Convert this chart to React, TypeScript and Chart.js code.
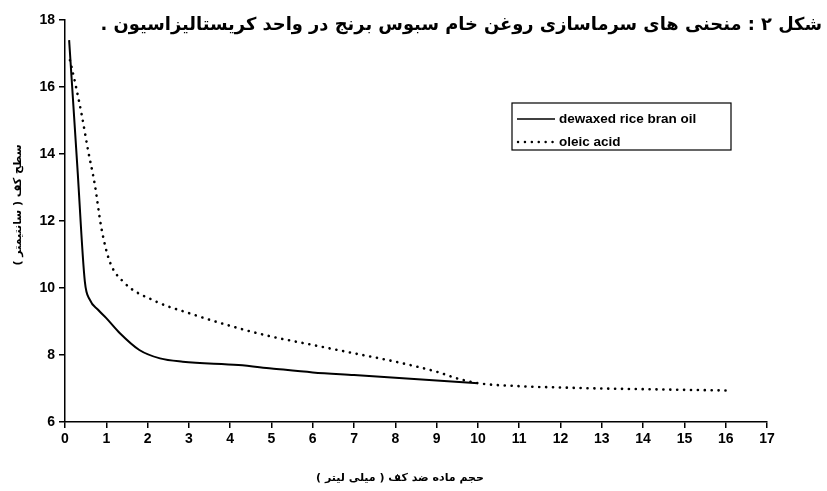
import React, { useEffect, useRef } from 'react';
import { Chart, registerables } from 'chart.js';

Chart.register(...registerables);

const TITLE = 'شکل ۲ : منحنی های سرماسازی روغن خام سبوس برنج در واحد کریستالیزاسیون .';
const Y_TITLE = 'سطح کف ( سانتیمتر )';
const X_TITLE = 'حجم ماده ضد کف ( میلی لیتر )';
const SERIES_NAMES = ['dewaxed rice bran oil', 'oleic acid'];

const dewaxedX = [0.1, 0.3, 0.48, 0.6, 0.8, 1.0, 1.33, 1.8, 2.3, 2.85, 4.2, 5, 6, 7, 8, 9, 10];
const dewaxedY = [17.4, 13.6, 10.2, 9.65, 9.35, 9.1, 8.65, 8.15, 7.9, 7.8, 7.7, 7.6, 7.48, 7.4, 7.32, 7.24, 7.16];

const oleicX = [0.12, 0.25, 0.4, 0.56, 0.72, 0.88, 1.08, 1.4, 2.2, 3.0, 4.2, 5, 6, 7, 8, 9, 9.5, 10, 11, 12, 13, 14, 15, 16.1];
const oleicY = [16.8, 16.1, 15.2, 14.1, 13.1, 11.8, 10.8, 10.2, 9.6, 9.25, 8.8, 8.55, 8.3, 8.05, 7.8, 7.5, 7.3, 7.16, 7.07, 7.03, 7.0, 6.98, 6.96, 6.94];

const X_MIN = 0;
const X_MAX = 17;
const X_STEP = 1;
const Y_MIN = 6;
const Y_MAX = 18;
const Y_STEP = 2;

const DOT_DASH = [0.1, 6.8];

const toPoints = (xs: number[], ys: number[]) => xs.map((x, i) => ({ x, y: ys[i] }));

const overlayPlugin = {
  id: 'overlayTexts',
  afterDraw(chart: any) {
    const ctx = chart.ctx as CanvasRenderingContext2D;
    ctx.save();
    ctx.fillStyle = '#000';
    ctx.strokeStyle = '#000';

    // Title (RTL, right aligned)
    ctx.direction = 'rtl';
    ctx.textAlign = 'right';
    ctx.textBaseline = 'middle';
    ctx.font = 'bold 20px "DejaVu Sans"';
    const w = ctx.measureText(TITLE).width;
    const size = Math.min(24, 20 * 722 / w);
    ctx.font = `bold ${size}px "DejaVu Sans"`;
    ctx.fillText(TITLE, 822, 25);

    // X axis title
    ctx.textAlign = 'center';
    ctx.font = 'bold 11px "DejaVu Sans"';
    ctx.fillText(X_TITLE, 400, 478);

    // Y axis title (rotated)
    ctx.save();
    ctx.translate(18, 205);
    ctx.rotate(-Math.PI / 2);
    ctx.textAlign = 'center';
    ctx.fillText(Y_TITLE, 0, 0);
    ctx.restore();

    // Legend
    ctx.direction = 'ltr';
    ctx.lineWidth = 1.2;
    ctx.setLineDash([]);
    ctx.strokeRect(512, 103, 219, 47);
    ctx.lineWidth = 1.6;
    ctx.beginPath();
    ctx.moveTo(517, 119);
    ctx.lineTo(555, 119);
    ctx.stroke();
    ctx.lineWidth = 2.4;
    ctx.lineCap = 'round';
    ctx.setLineDash(DOT_DASH);
    ctx.beginPath();
    ctx.moveTo(518, 142);
    ctx.lineTo(555, 142);
    ctx.stroke();
    ctx.setLineDash([]);
    ctx.textAlign = 'left';
    ctx.font = 'bold 13.5px "Liberation Sans"';
    ctx.fillText(SERIES_NAMES[0], 559, 119);
    ctx.fillText(SERIES_NAMES[1], 559, 142);
    ctx.restore();
  },
};

const tickFont = { family: '"Liberation Sans"', weight: 'bold' as const, size: 14 };

export default function App() {
  const ref = useRef<HTMLCanvasElement | null>(null);

  useEffect(() => {
    document.body.style.margin = '0';
    const canvas = ref.current;
    if (!canvas) return;
    const chart = new Chart(canvas, {
      type: 'line',
      data: {
        datasets: [
          {
            label: SERIES_NAMES[0],
            data: toPoints(dewaxedX, dewaxedY),
            borderColor: '#000',
            borderWidth: 2,
            pointRadius: 0,
            fill: false,
            cubicInterpolationMode: 'monotone',
          },
          {
            label: SERIES_NAMES[1],
            data: toPoints(oleicX, oleicY),
            borderColor: '#000',
            borderWidth: 2.6,
            borderDash: DOT_DASH,
            borderCapStyle: 'round',
            pointRadius: 0,
            fill: false,
            cubicInterpolationMode: 'monotone',
          },
        ],
      },
      options: {
        animation: false,
        responsive: false,
        devicePixelRatio: 1,
        layout: { padding: { top: 20, right: 60, left: 0, bottom: 0 } },
        plugins: {
          legend: { display: false },
          tooltip: { enabled: false },
          title: { display: false },
        },
        scales: {
          x: {
            type: 'linear',
            min: X_MIN,
            max: X_MAX,
            ticks: {
              stepSize: X_STEP,
              color: '#000',
              font: tickFont,
              padding: 3,
              maxRotation: 0,
              autoSkip: false,
            },
            grid: {
              drawOnChartArea: false,
              drawTicks: true,
              tickLength: 6,
              color: '#000',
              lineWidth: 1.5,
            },
            border: { color: '#000', width: 1.5 },
            afterFit: (s: any) => {
              s.height = 69;
            },
          },
          y: {
            type: 'linear',
            min: Y_MIN,
            max: Y_MAX,
            ticks: {
              stepSize: Y_STEP,
              color: '#000',
              font: tickFont,
              padding: 4,
            },
            grid: {
              drawOnChartArea: false,
              drawTicks: true,
              tickLength: 6,
              color: '#000',
              lineWidth: 1.5,
            },
            border: { color: '#000', width: 1.5 },
            afterFit: (s: any) => {
              s.width = 65;
            },
          },
        },
      },
      plugins: [overlayPlugin],
    });
    return () => chart.destroy();
  }, []);

  return (
    <div style={{ width: 827, height: 491, background: '#fff' }}>
      <canvas ref={ref} width={827} height={491} />
    </div>
  );
}
